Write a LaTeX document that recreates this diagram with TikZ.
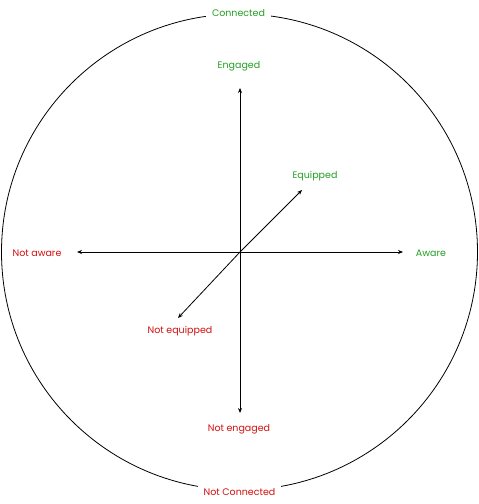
\documentclass[tikz,border=0pt]{standalone}
\usepackage{fontspec}
\setmainfont{Poppins}
\usetikzlibrary{arrows.meta}
\definecolor{posgreen}{RGB}{34,160,34}
\definecolor{negred}{RGB}{210,16,16}
\begin{document}
\begin{tikzpicture}[x=1pt,y=1pt,
  lbl/.style={font=\fontsize{9.5}{11}\selectfont, inner sep=0pt},
  goodlbl/.style={lbl, text=posgreen},
  badlbl/.style={lbl, text=negred},
  gapfill/.style={fill=white, inner xsep=6pt, inner ysep=3pt},
  axisarrow/.style={line width=0.8pt, -{Stealth[length=5pt,width=4pt]}}]
\useasboundingbox (0,0) rectangle (479,504);
\fill[white] (0,0) rectangle (479,504);
\draw[line width=0.8pt] (239.5,252) circle (238);
\coordinate (O) at (240,252);
\coordinate (up) at (240,416);
\coordinate (down) at (240,91);
\coordinate (left) at (77,252);
\coordinate (right) at (403,252);
\coordinate (ne) at (302,314);
\coordinate (sw) at (178,186);
\draw[axisarrow] (O) -- (up);
\draw[axisarrow] (O) -- (down);
\draw[axisarrow] (O) -- (left);
\draw[axisarrow] (O) -- (right);
\draw[axisarrow] (O) -- (ne);
\draw[axisarrow] (O) -- (sw);
\node[goodlbl,gapfill] (connected) at (238.5,490.5) {Connected};
\node[badlbl,gapfill] (notconnected) at (239.5,11.5) {Not Connected};
\node[goodlbl] (engaged) at (239,437.5) {Engaged};
\node[badlbl] (notengaged) at (239,74.5) {Not engaged};
\node[badlbl] (notaware) at (37,251) {Not aware};
\node[goodlbl] (aware) at (431,251) {Aware};
\node[goodlbl] (equipped) at (315,327.5) {Equipped};
\node[badlbl] (notequipped) at (180,172.5) {Not equipped};
\end{tikzpicture}
\end{document}
